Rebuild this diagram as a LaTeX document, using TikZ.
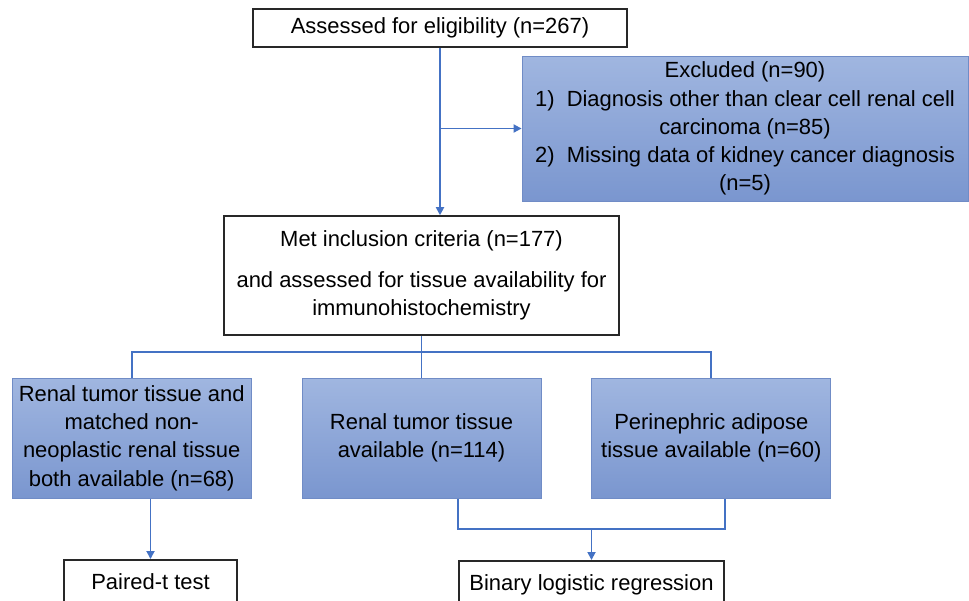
\documentclass[tikz,border=0pt]{standalone}
\usepackage{fontspec}
\setmainfont{Liberation Sans}
\usetikzlibrary{positioning,arrows.meta}

\definecolor{flowblue}{RGB}{68,114,196}
\definecolor{boxtop}{RGB}{160,182,224}
\definecolor{boxbot}{RGB}{122,150,207}
\definecolor{boxline}{RGB}{112,140,198}
\definecolor{frame}{RGB}{40,40,40}

\begin{document}
\begin{tikzpicture}[
    x=0.02cm, y=-0.02cm,
    >={Triangle[length=1.6mm, width=1.6mm]},
    plain/.style={
        draw=frame,
        line width=0.9pt,
        fill=white,
        align=center,
        inner sep=2pt,
        font=\fontsize{12.5}{16}\selectfont
    },
    blue/.style={
        draw=boxline,
        line width=0.5pt,
        top color=boxtop,
        bottom color=boxbot,
        align=center,
        inner sep=2pt,
        font=\fontsize{12.5}{16}\selectfont
    },
    flow/.style={draw=flowblue, line width=1pt}
]

\useasboundingbox (0,0) rectangle (969,600);

% --- Top of the chart ---
\node[plain, minimum width=7.48cm, minimum height=0.76cm] (assess) at (440,28)
    {Assessed for eligibility (n=267)};
\node[blue, minimum width=8.92cm, minimum height=2.9cm] (excl) at (745,128.5)
    {Excluded (n=90)\\
     1)\ \ Diagnosis other than clear cell renal cell\\
     carcinoma (n=85)\\
     2)\ \ Missing data of kidney cancer diagnosis\\
     (n=5)};
\node[plain, minimum width=7.9cm, minimum height=2.38cm] (met) at (421.5,275.5)
    {Met inclusion criteria (n=177)\\[7pt]
     and assessed for tissue availability for\\
     immunohistochemistry};

% --- Tissue groups ---
\node[blue, minimum width=4.78cm, minimum height=2.4cm, below=0.84cm of met] (tumor)
    {Renal tumor tissue\\available (n=114)};
\node[blue, minimum width=4.78cm, minimum height=2.4cm, left=1cm of tumor] (paired)
    {Renal tumor tissue and\\matched non-\\neoplastic renal tissue\\both available (n=68)};
\node[blue, minimum width=4.78cm, minimum height=2.4cm, right=1cm of tumor] (fat)
    {Perinephric adipose\\tissue available (n=60)};

% --- Analyses (cut by the lower edge) ---
\node[plain, anchor=north, minimum width=3.46cm, minimum height=1cm] (ttest) at (150.5,559)
    {\raisebox{4pt}{Paired-t test}};
\node[plain, anchor=north, minimum width=5.3cm, minimum height=1cm] (logit) at (591.5,560)
    {\raisebox{4pt}{Binary logistic regression}};

% --- Connectors ---
\draw[flow, ->] (assess.south) -- (assess.south |- met.north);
\draw[flow, ->] (assess.south |- excl.west) -- (excl.west);

\coordinate (split) at ([yshift=-0.32cm]met.south);
\draw[flow] (met.south) -- (tumor.north);
\draw[flow] (paired.north) |- (split) -| (fat.north);

\draw[flow, ->] (paired.south -| ttest.north) -- (ttest.north);

\coordinate (join) at ([yshift=0.62cm]logit.north);
\draw[flow] (tumor.south -| logit.north west) |- (join) -| (fat.south -| logit.north east);
\draw[flow, ->] (join) -- (logit.north);

\end{tikzpicture}
\end{document}
